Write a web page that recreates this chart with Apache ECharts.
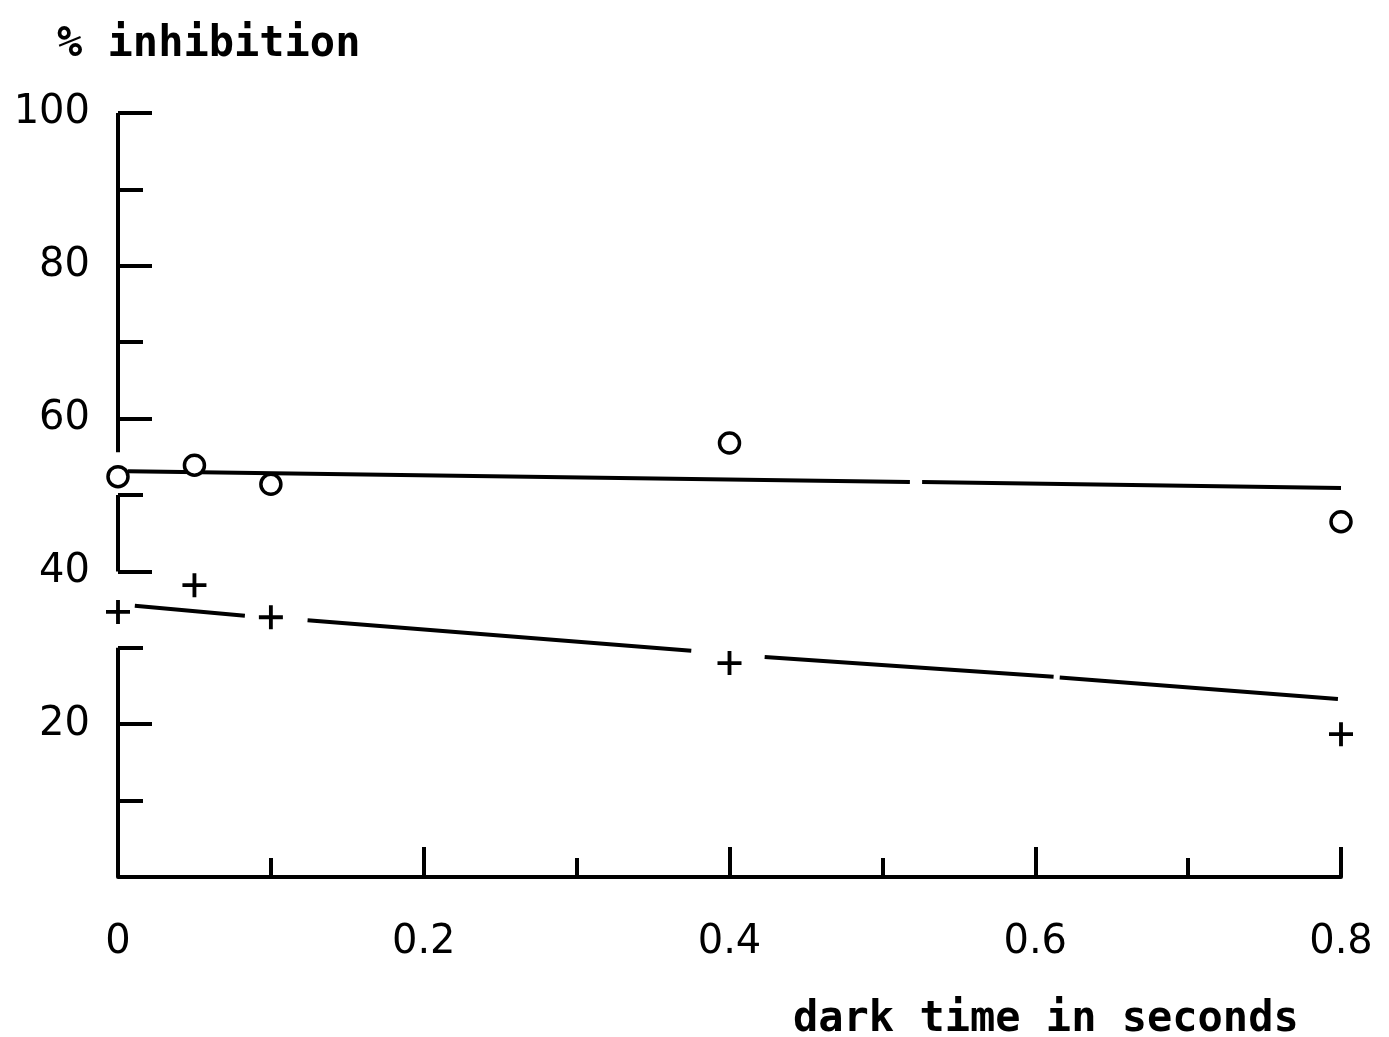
<!DOCTYPE html>
<html>
<head>
<meta charset="utf-8">
<script src="https://cdn.jsdelivr.net/npm/echarts@6/dist/echarts.min.js"></script>
<style>
html,body{margin:0;padding:0;background:#fff;}
#chart{width:1389px;height:1037px;}
</style>
</head>
<body>
<div id="chart"></div>
<script>
// Data
const circlePoints = [[0, 52.4], [0.05, 53.9], [0.1, 51.4], [0.4, 56.8], [0.8, 46.5]];
const plusPoints = [[0, 34.7], [0.05, 38.2], [0.1, 34.0], [0.4, 28.0], [0.8, 18.7]];
// Fitted lines, drawn in pieces as in the original (gaps included)
const upperFit = [[0.0065, 53.1], [0.518, 51.7], null, [0.526, 51.7], [0.8, 50.9]];
const lowerFit = [[0.011, 35.5], [0.083, 34.2], null, [0.124, 33.6], [0.375, 29.6], null,
                  [0.423, 28.8], [0.612, 26.2], null, [0.616, 26.1], [0.798, 23.3]];
// Left axis line pieces (the original axis is broken)
const yAxisPieces = [[0, 0], [0, 30], null, [0, 40], [0, 50], null, [0, 55.6], [0, 100]];
const xTickLabels = ['0', '0.2', '0.4', '0.6', '0.8'];
const yTickLabels = ['', '20', '40', '60', '80', '100'];
const yTitle = '% inhibition';
const xTitle = 'dark time in seconds';

const ink = '#000';
const plusPath = 'path://M0,8.4H20V11.6H0Z M8.4,0H11.6V20H8.4Z';

const chart = echarts.init(document.getElementById('chart'), null, {renderer: 'canvas'});
const toSeries = arr => arr.map(p => p === null ? ['-', '-'] : p);

chart.setOption({
  animation: false,
  backgroundColor: '#fff',
  title: [
    {text: yTitle, left: 52, top: 19,
     textStyle: {fontFamily: 'DejaVu Sans Mono', fontSize: 42, fontWeight: 'bold', color: ink}},
    {text: xTitle, left: 788, top: 994,
     textStyle: {fontFamily: 'DejaVu Sans Mono', fontSize: 42, fontWeight: 'bold', color: ink}}
  ],
  grid: {left: 118, right: 48, top: 113, bottom: 160, containLabel: false},
  xAxis: {
    type: 'value', min: 0, max: 0.8, interval: 0.2,
    axisLine: {show: true, onZero: false, lineStyle: {color: ink, width: 4}},
    axisTick: {show: true, inside: true, length: 30, lineStyle: {color: ink, width: 4}},
    minorTick: {show: true, splitNumber: 2, length: 19, lineStyle: {color: ink, width: 4}},
    splitLine: {show: false},
    axisLabel: {
      margin: 46, color: ink, fontFamily: 'DejaVu Sans', fontSize: 40,
      formatter: v => xTickLabels[Math.round(v / 0.2)]
    }
  },
  yAxis: {
    type: 'value', min: 0, max: 100, interval: 20,
    axisLine: {show: false},
    axisTick: {show: true, inside: true, length: 34, lineStyle: {color: ink, width: 4}},
    minorTick: {show: true, splitNumber: 2, length: 25, lineStyle: {color: ink, width: 4}},
    splitLine: {show: false},
    axisLabel: {
      margin: 28, color: ink, fontFamily: 'DejaVu Sans', fontSize: 40,
      formatter: v => yTickLabels[Math.round(v / 20)]
    }
  },
  series: [
    {type: 'line', data: toSeries(yAxisPieces), showSymbol: false, connectNulls: false,
     lineStyle: {color: ink, width: 4}, silent: true, z: 1},
    {type: 'line', data: toSeries(upperFit), showSymbol: false, connectNulls: false,
     lineStyle: {color: ink, width: 4}, silent: true, z: 2},
    {type: 'line', data: toSeries(lowerFit), showSymbol: false, connectNulls: false,
     lineStyle: {color: ink, width: 4}, silent: true, z: 2},
    {type: 'scatter', data: circlePoints, symbol: 'circle', symbolSize: 20,
     itemStyle: {color: '#fff', borderColor: ink, borderWidth: 3.5, opacity: 1}, z: 3},
    {type: 'scatter', data: plusPoints, symbol: plusPath, symbolSize: 24,
     itemStyle: {color: ink, opacity: 1}, z: 3}
  ]
});
</script>
</body>
</html>
